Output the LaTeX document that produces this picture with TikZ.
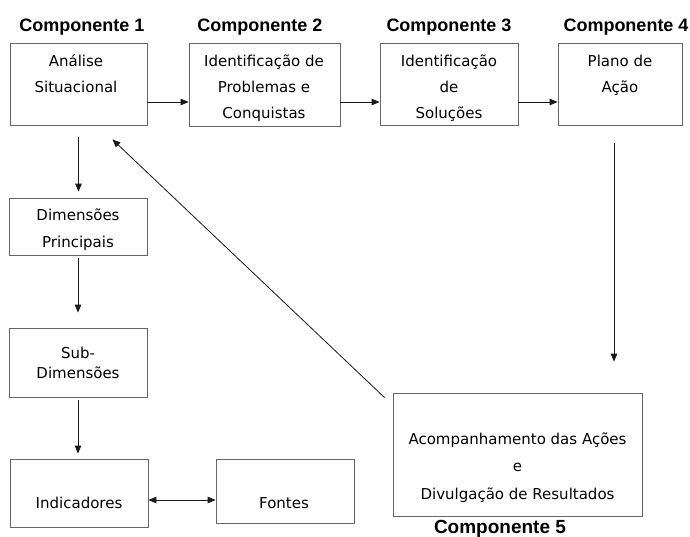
\documentclass[tikz,border=0pt]{standalone}
\usepackage{fontspec}
\setmainfont{DejaVu Sans}
\newfontfamily\headfont{Liberation Sans}
\usetikzlibrary{arrows.meta}

\tikzset{
  box/.style={draw=black!60, line width=0.8pt, inner sep=0pt},
  txt/.style={align=center, inner sep=0pt, font=\fontsize{15}{26}\selectfont},
  head/.style={anchor=base, inner sep=0pt, font=\headfont\bfseries\fontsize{18}{20}\selectfont},
  arr/.style={draw=black!90, line width=0.8pt, -{Triangle[length=8pt,width=6.5pt]}},
  darr/.style={draw=black!90, line width=0.8pt, {Triangle[length=8pt,width=6.5pt]}-{Triangle[length=8pt,width=6.5pt]}},
}

\begin{document}
\begin{tikzpicture}[x=1pt,y=-1pt]
\fill[white] (0,0) rectangle (690,536);
\useasboundingbox (0,0) rectangle (690,536);

% headings
\node[head] (h1) at (82,31) {Componente 1};
\node[head] (h2) at (260,31) {Componente 2};
\node[head] (h3) at (449,31) {Componente 3};
\node[head] (h4) at (626,31) {Componente 4};
\node[head, font=\headfont\bfseries\fontsize{19}{21}\selectfont] (h5) at (500,533) {Componente 5};

% boxes
\node[box, minimum width=137pt, minimum height=82pt] (b1) at (78.5,84) {};
\node[box, minimum width=151pt, minimum height=83pt] (b2) at (264.5,84.5) {};
\node[box, minimum width=138pt, minimum height=82pt] (b3) at (449,84) {};
\node[box, minimum width=124pt, minimum height=82pt] (b4) at (620,84) {};
\node[box, minimum width=138pt, minimum height=57pt] (dim) at (78,226.5) {};
\node[box, minimum width=138pt, minimum height=69pt] (sub) at (78,362.5) {};
\node[box, minimum width=138pt, minimum height=68pt] (ind) at (79,493) {};
\node[box, minimum width=138pt, minimum height=64pt] (fon) at (285,491) {};
\node[box, minimum width=249pt, minimum height=123pt] (c5) at (517.5,454.5) {};

% texts
\node[txt] (t1) at (76,74) {\strut Análise\\\strut Situacional};
\node[txt] (t2) at (264,87) {\strut Identificação de\\\strut Problemas e\\\strut Conquistas};
\node[txt] (t3) at (449,87) {\strut Identificação\\\strut de\\\strut Soluções};
\node[txt] (t4) at (620,74) {\strut Plano de\\\strut Ação};
\node[txt, font=\fontsize{15}{27}\selectfont] (tdim) at (78,228.5) {\strut Dimensões\\\strut Principais};
\node[txt, font=\fontsize{15}{20}\selectfont] (tsub) at (78,364) {\strut Sub-\\\strut Dimensões};
\node[txt] (tind) at (79,503) {\strut Indicadores};
\node[txt] (tfon) at (284,503) {\strut Fontes};
\node[txt, font=\fontsize{15}{27.5}\selectfont] (tc5) at (517.5,466) {\strut Acompanhamento das Ações\\\strut e\\\strut Divulgação de Resultados};

% connectors
\coordinate (rowy) at (0,102);
\coordinate (dy) at (0,500);
\draw[arr] (b1.east |- rowy) -- (b2.west |- rowy);
\draw[arr] (b2.east |- rowy) -- (b3.west |- rowy);
\draw[arr] (b3.east |- rowy) -- (b4.west |- rowy);
\draw[arr, shorten <=12pt, shorten >=6pt] (b1.south) -- (b1.south |- dim.north);
\draw[arr, shorten <=3pt, shorten >=15pt] (dim.south) -- (sub.north);
\draw[arr, shorten <=3pt, shorten >=5pt] (sub.south) -- (sub.south |- ind.north);
\draw[darr] (ind.east |- dy) -- (fon.west |- dy);
\draw[arr, shorten <=18pt, shorten >=31pt] ([xshift=-6pt]b4.south) -- ([xshift=-6pt]b4.south |- c5.north);
\draw[arr] ([xshift=-8pt,yshift=-5pt]c5.north west) -- ([xshift=-35pt,yshift=-14pt]b1.south east);
\end{tikzpicture}
\end{document}
